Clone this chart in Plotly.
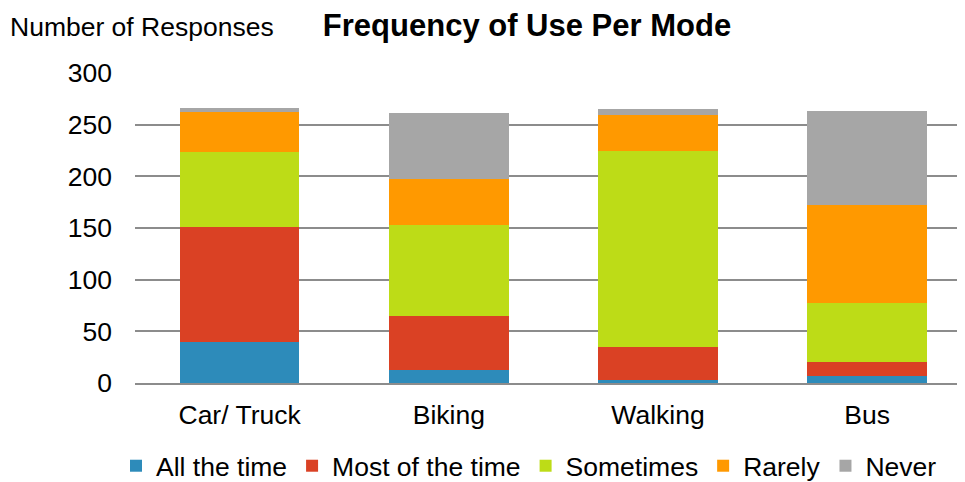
import plotly.graph_objects as go

categories = ["Car/ Truck", "Biking", "Walking", "Bus"]
all_the_time = [40, 13, 3, 7]
most_of_the_time = [111, 52, 32, 13]
sometimes = [73, 88, 190, 57]
rarely = [38, 44, 34, 95]
never = [4, 64, 6, 91]

series = [
    ("All the time", all_the_time, "#2D8BBA"),
    ("Most of the time", most_of_the_time, "#DA4124"),
    ("Sometimes", sometimes, "#BDDC17"),
    ("Rarely", rarely, "#FF9900"),
    ("Never", never, "#A6A6A6"),
]

fig = go.Figure()
for name, vals, color in series:
    fig.add_trace(go.Bar(x=categories, y=vals, name=name,
                         marker=dict(color=color, line=dict(width=0))))

# The page body has an 8px default margin; the figure is sized to fit the window.
W, H = 957, 474
L, T, B = 127, 65, 99
PW, PH = W - L, H - T - B
band = 209.2  # px per category in the reference; the plot is clipped at the right edge

font = "Liberation Sans, Arial, sans-serif"
fs = 26.5
fig.update_layout(
    barmode="stack",
    bargap=0.428,
    width=W, height=H,
    margin=dict(l=L, r=0, t=T, b=B, autoexpand=False),
    plot_bgcolor="white", paper_bgcolor="white",
    font=dict(family=font, size=fs, color="#000000"),
    title=dict(text="<b>Frequency of Use Per Mode</b>", xref="container", yref="container",
               x=519/W, y=1-17/H, xanchor="center", yanchor="middle",
               font=dict(size=31, family=font, color="#000000")),
    legend=dict(orientation="h", xref="container", x=521/W, xanchor="center",
                yref="container", y=1-458/H, yanchor="middle",
                font=dict(size=fs, family=font), traceorder="normal",
                itemwidth=30, tracegroupgap=0),
    showlegend=True,
    yaxis=dict(range=[0, 300], dtick=50, showgrid=True, gridcolor="#8C8C8C", gridwidth=1.5,
               zeroline=False, showline=False, ticks="", ticklabelstandoff=22,
               tickfont=dict(size=fs)),
    xaxis=dict(range=[-0.5, -0.5 + PW/band], showline=True, linecolor="#8C8C8C", linewidth=1.5,
               ticks="", ticklabelstandoff=7, tickfont=dict(size=fs)),
    annotations=[dict(text="Number of Responses", xref="paper", yref="paper",
                      x=-L/PW, y=(PH + T - 19)/PH, xanchor="left", yanchor="middle",
                      showarrow=False, font=dict(size=fs, family=font))],
)

fig.write_html("out.html")
